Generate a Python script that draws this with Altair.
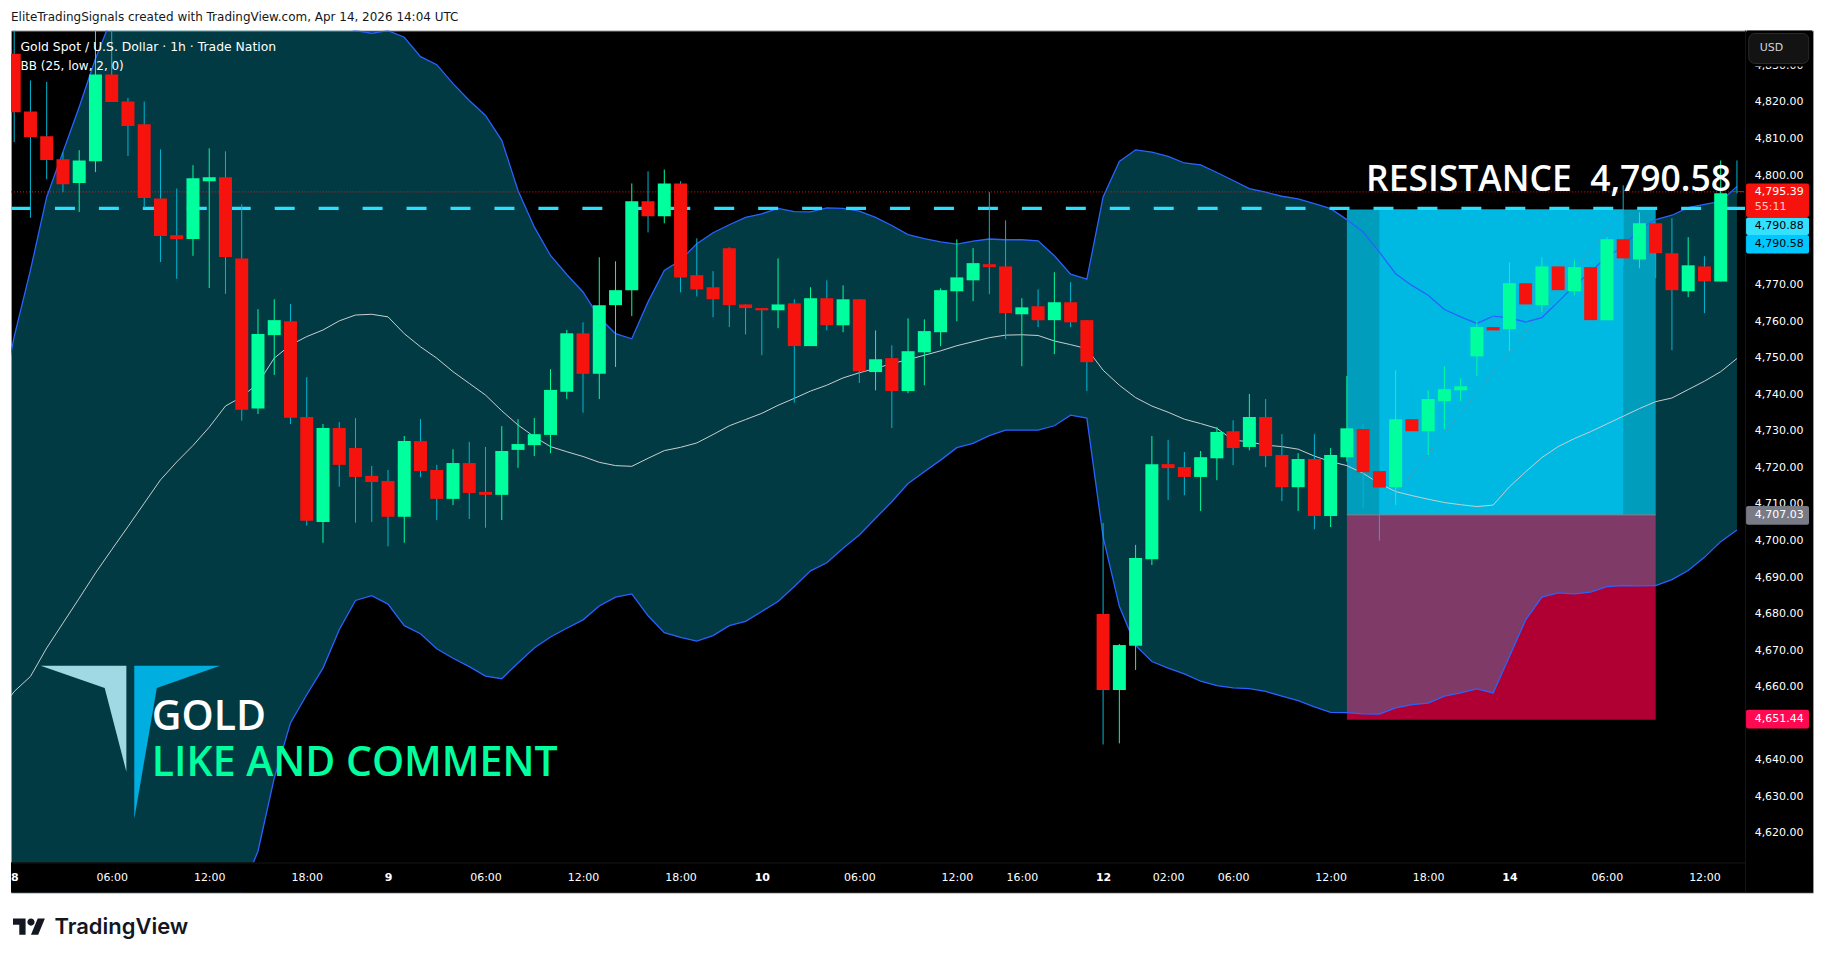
import altair as alt
import pandas as pd

# hourly candles
bar_open = [4833.2, 4817.4, 4810.6, 4804.3, 4797.8, 4803.8, 4827.5, 4820.1, 4813.9, 4793.6,
            4783.5, 4782.5, 4798.3, 4799.4, 4777.2, 4736.1, 4756.2, 4760.0, 4733.8, 4705.1,
            4730.8, 4725.3, 4717.7, 4716.3, 4706.5, 4727.2, 4719.3, 4711.4, 4721.2, 4713.3,
            4712.5, 4724.8, 4726.1, 4728.9, 4740.7, 4756.7, 4745.6, 4764.4, 4768.5, 4792.8,
            4788.7, 4797.7, 4772.6, 4769.3, 4780.0, 4764.6, 4763.6, 4763.0, 4764.9, 4753.2,
            4766.3, 4758.9, 4766.0, 4746.1, 4749.9, 4740.9, 4751.5, 4757.0, 4768.2, 4771.2,
            4775.6, 4775.0, 4761.9, 4764.1, 4760.3, 4765.2, 4760.3, 4679.9, 4659.1, 4671.2,
            4694.9, 4720.9, 4720.1, 4717.4, 4722.5, 4729.9, 4725.6, 4733.8, 4723.4, 4714.6,
            4722.3, 4706.7, 4722.8, 4730.5, 4719.0, 4714.6, 4733.2, 4729.9, 4738.1, 4741.1,
            4750.4, 4758.4, 4757.8, 4770.4, 4764.4, 4775.0, 4768.2, 4774.8, 4760.3, 4782.4,
            4776.9, 4786.8, 4778.6, 4768.2, 4775.0, 4770.9, 4795.6]
bar_close = [4817.2, 4810.4, 4804.1, 4797.5, 4804.0, 4827.5, 4820.0, 4813.4, 4793.7, 4783.3,
             4782.4, 4799.1, 4799.4, 4777.6, 4735.8, 4756.5, 4760.3, 4733.6, 4705.4, 4730.8,
             4720.7, 4717.4, 4716.0, 4706.5, 4727.2, 4719.0, 4711.4, 4721.2, 4713.0, 4712.5,
             4724.5, 4726.4, 4729.1, 4741.2, 4756.7, 4745.6, 4764.4, 4768.5, 4792.8, 4788.7,
             4797.7, 4772.0, 4768.7, 4766.0, 4764.4, 4763.6, 4763.0, 4764.6, 4753.2, 4766.3,
             4758.9, 4766.0, 4746.3, 4749.6, 4740.9, 4751.8, 4757.3, 4768.5, 4772.0, 4775.9,
             4774.8, 4762.2, 4763.8, 4760.3, 4765.2, 4759.7, 4748.8, 4659.1, 4671.4, 4695.2,
             4720.9, 4719.8, 4717.4, 4722.8, 4729.7, 4725.3, 4733.8, 4723.1, 4714.6, 4722.3,
             4706.7, 4723.4, 4730.7, 4718.7, 4714.5, 4733.2, 4729.9, 4738.7, 4741.4, 4742.2,
             4758.4, 4757.5, 4770.4, 4764.6, 4775.0, 4768.5, 4774.8, 4760.3, 4782.4, 4777.2,
             4786.8, 4778.6, 4768.5, 4775.3, 4770.9, 4795.0, 4795.39]
bar_high = [4842.0, 4825.9, 4825.5, 4806.2, 4806.8, 4842.0, 4842.0, 4821.1, 4820.1, 4807.0,
            4796.3, 4802.7, 4807.3, 4806.5, 4792.0, 4763.3, 4766.0, 4764.7, 4744.7, 4731.9,
            4732.4, 4733.5, 4720.4, 4719.3, 4728.6, 4733.2, 4720.7, 4725.0, 4727.0, 4725.6,
            4731.3, 4733.2, 4733.5, 4746.9, 4757.6, 4759.7, 4777.5, 4776.4, 4797.7, 4801.0,
            4801.5, 4798.3, 4782.7, 4773.7, 4780.2, 4764.6, 4763.6, 4777.2, 4766.0, 4769.3,
            4771.2, 4769.8, 4766.0, 4757.5, 4753.4, 4760.8, 4760.5, 4769.0, 4782.4, 4780.0,
            4795.3, 4787.6, 4766.3, 4768.7, 4773.4, 4770.7, 4760.3, 4704.8, 4671.7, 4698.8,
            4728.6, 4727.5, 4724.2, 4724.5, 4731.0, 4732.9, 4740.1, 4738.7, 4729.1, 4723.9,
            4729.1, 4725.3, 4745.0, 4731.8, 4719.0, 4746.6, 4742.0, 4741.1, 4747.7, 4744.4,
            4760.0, 4765.7, 4776.1, 4772.0, 4777.5, 4775.0, 4776.7, 4774.8, 4783.0, 4797.2,
            4789.8, 4786.8, 4788.2, 4783.0, 4777.8, 4804.0, 4804.0]
bar_low = [4809.0, 4788.3, 4798.8, 4795.3, 4789.9, 4800.8, 4820.0, 4805.2, 4791.0, 4776.2,
           4771.6, 4777.9, 4769.1, 4767.5, 4732.8, 4734.6, 4745.3, 4731.9, 4704.1, 4699.4,
           4714.7, 4704.9, 4705.1, 4698.4, 4699.4, 4717.4, 4705.6, 4709.7, 4705.9, 4703.5,
           4705.6, 4719.9, 4723.1, 4723.9, 4738.7, 4735.0, 4738.7, 4747.5, 4761.4, 4784.3,
           4786.8, 4767.9, 4766.8, 4761.1, 4758.4, 4756.4, 4750.7, 4758.1, 4737.7, 4753.2,
           4757.5, 4757.0, 4743.1, 4741.1, 4730.8, 4740.3, 4742.5, 4753.2, 4760.0, 4765.5,
           4767.4, 4755.1, 4747.7, 4758.4, 4751.0, 4758.4, 4740.9, 4644.2, 4644.5, 4664.6,
           4693.3, 4711.1, 4712.4, 4708.1, 4716.5, 4720.6, 4724.7, 4720.1, 4710.8, 4708.1,
           4703.1, 4703.7, 4721.6, 4708.9, 4700.0, 4709.7, 4729.9, 4723.4, 4730.5, 4738.1,
           4745.0, 4754.8, 4751.8, 4764.6, 4762.5, 4768.5, 4767.1, 4760.3, 4760.3, 4775.0,
           4774.5, 4771.8, 4752.1, 4766.6, 4762.2, 4770.9, 4795.0]

# Bollinger band, one value per bar starting one bar left of the first candle
bb_upper = [4733.0, 4755.8, 4774.0, 4794.0, 4806.3, 4818.6, 4831.8, 4843.0, 4848.0, 4852.0,
            4855.0, 4857.0, 4858.0, 4859.0, 4860.0, 4860.0, 4858.0, 4855.0, 4851.0, 4847.0,
            4844.0, 4841.0, 4839.5, 4838.8, 4839.5, 4837.7, 4832.4, 4830.2, 4825.0, 4820.4,
            4816.3, 4809.5, 4795.8, 4785.8, 4778.0, 4772.8, 4768.0, 4761.0, 4756.6, 4755.2,
            4765.3, 4773.9, 4776.7, 4781.2, 4784.2, 4786.4, 4788.4, 4789.4, 4790.9, 4790.0,
            4789.9, 4791.0, 4790.9, 4790.1, 4788.4, 4786.2, 4783.7, 4782.6, 4781.7, 4781.1,
            4781.9, 4782.5, 4782.3, 4782.3, 4782.0, 4777.9, 4772.9, 4771.5, 4794.0, 4803.7,
            4806.9, 4806.3, 4805.1, 4803.3, 4802.8, 4800.7, 4798.5, 4796.3, 4795.3, 4794.2,
            4793.5, 4792.2, 4790.8, 4787.8, 4784.4, 4778.9, 4773.0, 4769.8, 4767.1, 4763.2,
            4761.2, 4759.4, 4761.4, 4760.9, 4759.8, 4761.0, 4765.3, 4769.8, 4773.5, 4777.8,
            4780.3, 4785.3, 4787.8, 4789.0, 4791.1, 4792.0, 4792.8, 4796.9]
bb_basis = [4652.7, 4658.7, 4662.8, 4670.6, 4677.4, 4684.2, 4691.1, 4697.5, 4703.8, 4710.2,
            4716.6, 4721.5, 4726.0, 4731.0, 4736.8, 4739.3, 4743.0, 4749.9, 4753.5, 4755.8,
            4757.6, 4760.1, 4761.7, 4761.9, 4761.2, 4756.6, 4753.0, 4749.9, 4746.2, 4743.0,
            4739.8, 4735.5, 4731.6, 4728.4, 4725.7, 4724.3, 4723.0, 4721.4, 4720.5, 4720.3,
            4722.5, 4724.6, 4725.5, 4726.7, 4729.0, 4731.4, 4733.1, 4734.8, 4737.0, 4738.9,
            4740.9, 4742.5, 4744.5, 4745.9, 4747.1, 4748.4, 4749.5, 4750.7, 4751.9, 4753.3,
            4754.4, 4755.5, 4756.2, 4756.3, 4756.1, 4754.6, 4753.6, 4752.5, 4746.6, 4742.5,
            4739.1, 4736.8, 4735.1, 4733.2, 4732.0, 4730.7, 4727.5, 4727.0, 4726.1, 4725.7,
            4725.0, 4723.1, 4721.6, 4720.5, 4718.4, 4715.6, 4713.4, 4712.3, 4711.3, 4710.4,
            4709.8, 4709.3, 4709.7, 4714.7, 4718.8, 4722.7, 4725.7, 4727.9, 4729.8, 4731.9,
            4734.0, 4736.1, 4738.0, 4739.0, 4741.3, 4743.6, 4746.2, 4749.8]
bb_lower = [4550.0, 4575.0, 4573.0, 4570.0, 4568.0, 4567.0, 4568.0, 4570.0, 4573.0, 4576.0,
            4580.0, 4584.0, 4588.0, 4592.0, 4597.0, 4604.0, 4615.0, 4635.0, 4650.1, 4657.8,
            4665.1, 4675.6, 4683.6, 4684.9, 4682.6, 4676.7, 4674.5, 4670.4, 4667.8, 4665.5,
            4662.9, 4662.2, 4666.5, 4670.6, 4673.6, 4676.0, 4678.3, 4682.1, 4684.5, 4685.4,
            4679.4, 4674.8, 4673.5, 4672.5, 4674.0, 4676.7, 4677.9, 4680.6, 4683.3, 4687.4,
            4691.7, 4693.9, 4697.9, 4701.5, 4706.1, 4710.6, 4715.6, 4718.8, 4722.0, 4725.4,
            4726.6, 4728.7, 4730.2, 4730.2, 4730.2, 4731.4, 4734.3, 4733.5, 4701.0, 4682.0,
            4671.3, 4666.9, 4665.1, 4663.5, 4661.5, 4660.3, 4659.7, 4659.5, 4658.7, 4657.4,
            4656.2, 4654.5, 4653.0, 4652.9, 4652.6, 4652.5, 4654.2, 4655.1, 4655.5, 4657.4,
            4658.3, 4659.4, 4658.3, 4668.3, 4678.3, 4684.5, 4685.7, 4685.4, 4685.9, 4687.4,
            4687.7, 4687.6, 4687.7, 4689.3, 4691.8, 4695.4, 4699.7, 4702.9]

# 4,780 and 4,790 sit fully behind the price chips
price_ticks = [4620, 4630, 4640, 4650, 4660, 4670, 4680, 4690, 4700, 4710, 4720, 4730,
               4740, 4750, 4760, 4770, 4800, 4810, 4820, 4830]
time_ticks = [0, 6, 12, 18, 23, 29, 35, 41, 46, 52, 58, 62, 67, 71, 75, 81, 87, 92, 98, 104]
time_labels = ['8', '06:00', '12:00', '18:00', '9', '06:00', '12:00', '18:00', '10', '06:00',
               '12:00', '16:00', '12', '02:00', '06:00', '12:00', '18:00', '14', '06:00', '12:00']
day_ticks = [0, 23, 46, 67, 92]

resistance = 4790.58
alert_level = 4790.88
last_price = 4795.39
entry = 4707.03
stop = 4651.0
pos_start, pos_end = 82, 101
inner_left, inner_right = 84, 99

RED = '#F7130D'
GREEN = '#00FF9D'
WICK_DOWN = '#00B8D4'
BAND_BLUE = '#2962FF'
FONT = 'DejaVu Sans'
W, H = 1804, 863
PANE_W, PANE_H = 1736, 833

bars = pd.DataFrame({'i': range(len(bar_open)), 'open': bar_open, 'close': bar_close,
                     'high': bar_high, 'low': bar_low})
is_up = bars['close'] >= bars['open']
bars['body'] = [GREEN if u else RED for u in is_up]
bars['wick'] = [GREEN if u else WICK_DOWN for u in is_up]
bands = pd.DataFrame({'i': range(-1, len(bb_upper) - 1), 'upper': bb_upper,
                      'basis': bb_basis, 'lower': bb_lower})

x_scale = alt.Scale(domain=[-0.197, 110.68], nice=False, zero=False, padding=0)
y_scale = alt.Scale(domain=[4603.69, 4839.55], nice=False, zero=False)

x_axis = alt.Axis(
    orient='bottom', offset=-30, values=time_ticks, domain=False, ticks=False, grid=False,
    labelColor='#FFFFFF', labelFont=FONT, labelFontSize=11, labelPadding=9,
    labelFontWeight={'condition': {'test': f'indexof({day_ticks}, datum.value) >= 0',
                                   'value': 'bold'}, 'value': 'normal'},
    labelOverlap=False, labelFlush=False, labelBound=False, zindex=1,
    labelExpr=f'{time_labels}[indexof({time_ticks}, datum.value)]')
y_axis = alt.Axis(
    orient='left', offset=-1796, values=price_ticks, domain=False, ticks=False, grid=False,
    labelColor='#FFFFFF', labelFont=FONT, labelFontSize=11, labelPadding=2,
    labelOverlap=False, labelBound=False, format=',.2f', zindex=0)


def X(field):
    return alt.X(field, scale=x_scale, axis=x_axis, title=None)


def Y(field):
    return alt.Y(field, scale=y_scale, axis=y_axis, title=None)


def box(i0, i1, p0, p1, color):
    df = pd.DataFrame({'a': [i0], 'b': [i1], 'p': [p0], 'q': [p1]})
    return alt.Chart(df).mark_rect(color=color, opacity=1).encode(
        x=X('a:Q'), x2='b:Q', y=Y('p:Q'), y2='q:Q')


def level(price, color, width, dash=None):
    df = pd.DataFrame({'a': [-0.197], 'b': [106.5], 'p': [price]})
    kw = {'strokeDash': dash} if dash else {}
    return alt.Chart(df).mark_rule(color=color, strokeWidth=width, **kw).encode(
        x=X('a:Q'), x2='b:Q', y=Y('p:Q'))


def label(text, px, py, size=11, color='#FFFFFF', align='left', font=FONT, weight='normal'):
    return alt.Chart(pd.DataFrame({'t': [text]})).mark_text(
        align=align, baseline='middle', fontSize=size, color=color, font=font, fontWeight=weight
    ).encode(x=alt.value(px), y=alt.value(py), text='t:N')


def chip(x0, x1, y0, y1, color, radius=2, stroke=None):
    kw = {'stroke': stroke} if stroke else {}
    return alt.Chart(pd.DataFrame({'k': [0]})).mark_rect(
        color=color, cornerRadius=radius, **kw
    ).encode(x=alt.value(x0), x2=alt.value(x1), y=alt.value(y0), y2=alt.value(y1))


def glyph(path, px, py, color, scale=1.0):
    return alt.Chart(pd.DataFrame({'k': [0]})).mark_point(
        shape=path, filled=True, color=color, opacity=1, size=4 * scale * scale, strokeWidth=0
    ).encode(x=alt.value(px), y=alt.value(py))


band_area = alt.Chart(bands).mark_area(color='#07C8E7', opacity=0.29, clip=True).encode(
    x=X('i:Q'), y=Y('upper:Q'), y2='lower:Q')


def band_line(field, color, width):
    return alt.Chart(bands).mark_line(color=color, strokeWidth=width, clip=True).encode(
        x=X('i:Q'), y=Y(field))


trend = pd.DataFrame({'i': [84, 99], 'p': [entry, resistance]})
trend_line = alt.Chart(trend).mark_line(color='#4E97AE', strokeWidth=1, strokeDash=[5, 4]).encode(
    x=X('i:Q'), y=Y('p:Q'))
entry_line = alt.Chart(pd.DataFrame({'a': [pos_start], 'b': [pos_end], 'p': [entry]})).mark_rule(
    color='#7F8C99', strokeWidth=1).encode(x=X('a:Q'), x2='b:Q', y=Y('p:Q'))

wicks = alt.Chart(bars).mark_rule(strokeWidth=1, clip=True).encode(
    x=X('i:Q'), y=Y('high:Q'), y2='low:Q', color=alt.Color('wick:N', scale=None))
bodies = alt.Chart(bars).mark_bar(size=13, clip=True, opacity=1).encode(
    x=X('i:Q'), y=Y('open:Q'), y2='close:Q', color=alt.Color('body:N', scale=None))

tv_mark = ('M14 22H7V11H0V4h14v18z M28 22h-8l7.5-18h8L28 22z '
           'M24 8a4 4 0 1 1-8 0a4 4 0 1 1 8 0z')

chart = alt.layer(
    box(pos_start, pos_end, entry, stop, '#B00033'),
    band_area,
    box(pos_start, pos_end, resistance, entry, '#009DBD'),
    box(inner_left, inner_right, resistance, entry, '#00B9E3'),
    entry_line,
    trend_line,
    band_line('basis:Q', '#C9CED1', 1),
    band_line('upper:Q', BAND_BLUE, 1.3),
    band_line('lower:Q', BAND_BLUE, 1.3),
    level(last_price, RED, 1, [1, 2]),
    level(alert_level, '#2BDFFF', 3.5, [20, 24]),
    wicks,
    bodies,
    # bottom time strip and pane separators
    chip(0, W, PANE_H, H, '#000000', radius=0),
    chip(PANE_W, PANE_W + 1, 0, H, '#161616', radius=0),
    chip(0, PANE_W, PANE_H, PANE_H + 1, '#161616', radius=0),
    # texts on the chart
    label('EliteTradingSignals created with TradingView.com, Apr 14, 2026 14:04 UTC', 0, -14,
          size=12, color='#131722'),
    label('Gold Spot / U.S. Dollar \u00b7 1h \u00b7 Trade Nation', 9.5, 16.5, size=12.4),
    label('BB (25, low, 2, 0)', 9.5, 36, size=12),
    label('RESISTANCE\u00a0\u00a04,790.58', 1356.5, 150, size=35.5, font='Open Sans', weight=600),
    label('GOLD', 141, 688.5, size=41, font='Open Sans', weight=600),
    label('LIKE AND COMMENT', 141, 734.5, size=41, color=GREEN, font='Open Sans', weight=600),
    glyph('M0 0L85.8 0L85.8 106L64.1 22.3z', 29.7, 636, '#A0D8E4'),
    glyph('M0 0L85.8 0L22.6 22.3L0 153.3z', 123.4, 636, '#00AEE0'),
    # price chips
    chip(1737, 1800, 153.3, 186.7, RED),
    chip(1737, 1800, 187.3, 204.7, '#33E1FF'),
    chip(1737, 1800, 204.7, 223.3, '#00C8FF'),
    chip(1737, 1800, 476, 494.7, '#787B86'),
    chip(1737, 1800, 680, 698.7, '#FF0A50'),
    label('4,795.39', 1745.7, 162),
    label('55:11', 1745.7, 177, color='#FFC9C4'),
    label('4,790.88', 1745.7, 196, color='#000000'),
    label('4,790.58', 1745.7, 214, color='#000000'),
    label('4,707.03', 1745.7, 485),
    label('4,651.44', 1745.7, 689),
    # currency button hides the top tick label, as in the reference
    chip(1738, 1803, 0, 36, '#000000', radius=0),
    chip(1739.7, 1799.7, 3, 33, '#131313', radius=6, stroke='#2A2A2A'),
    label('USD', 1750.7, 18, size=11, color='#D1D4DC'),
    # logo under the frame
    glyph(tv_mark, 2, 885.4, '#131722', scale=0.9),
    label('TradingView', 43.5, 898, size=22, color='#131722', font='Inter', weight=600),
).properties(
    width=W,
    height=H,
    padding={'left': 3, 'top': 22, 'right': 5, 'bottom': 50},
    autosize=alt.AutoSizeParams(type='none'),
    background='#FFFFFF',
).configure_view(fill='#000000', stroke='#9A9A9A', strokeWidth=1)

chart.save("out.html", embed_options={"renderer": "svg", "actions": False})
